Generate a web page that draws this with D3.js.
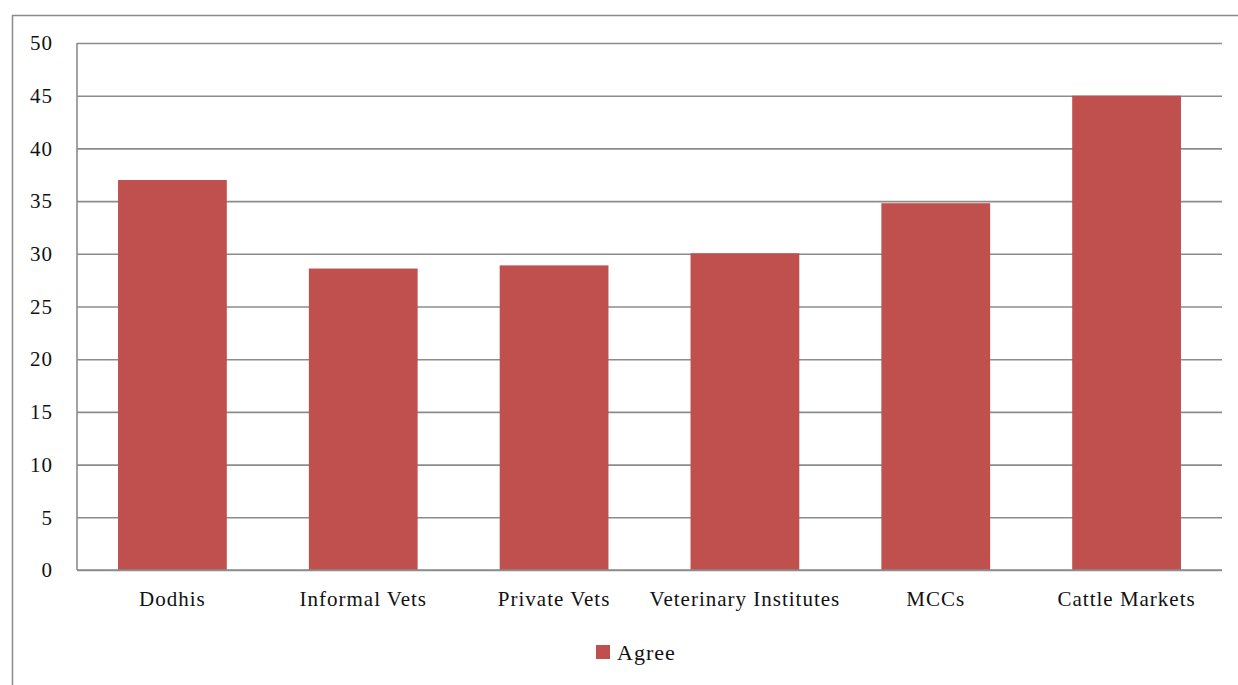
<!DOCTYPE html>
<html>
<head>
<meta charset="utf-8">
<script src="https://cdn.jsdelivr.net/npm/d3@7"></script>
<style>
  html, body { margin: 0; padding: 0; background: #fff; }
  svg { display: block; }
  text { font-family: "Liberation Serif", "DejaVu Serif", serif; fill: #111; }
</style>
</head>
<body>
<svg id="chart" width="1238" height="685"></svg>
<script>
// Share of respondents who agree, by actor
const categories = ["Dodhis", "Informal Vets", "Private Vets", "Veterinary Institutes", "MCCs", "Cattle Markets"];
const agreeValues = [37, 28.6, 28.9, 30.05, 34.8, 45];
const yTicks = [0, 5, 10, 15, 20, 25, 30, 35, 40, 45, 50];
const seriesName = "Agree";

const svg = d3.select("#chart");
const W = 1238, H = 685;
const margin = { left: 77, right: W - 1222, top: 43, bottom: H - 570 };
const barColor = "#C0504D";
const gridColor = "#8c8c8c";
const labelFont = '"Liberation Serif", serif';

// outer chart frame
svg.append("rect")
  .attr("x", 12.5).attr("y", 15.5)
  .attr("width", W + 20).attr("height", H + 20)
  .attr("fill", "none").attr("stroke", "#8a8a8a").attr("stroke-width", 1.5);

const x = d3.scaleBand()
  .domain(categories)
  .range([margin.left, W - margin.right])
  .paddingInner(0.43)
  .paddingOuter(0.215);

const y = d3.scaleLinear()
  .domain([0, 50])
  .range([H - margin.bottom, margin.top]);

// horizontal gridlines with value labels
const yAxis = d3.axisLeft(y).tickValues(yTicks).tickSize(-(W - margin.left - margin.right)).tickPadding(24);
const gy = svg.append("g").attr("transform", `translate(${margin.left},0)`).call(yAxis);
gy.select(".domain").remove();
gy.selectAll(".tick line").attr("stroke", gridColor).attr("stroke-width", 1.6);
gy.selectAll(".tick text").attr("font-size", 21).attr("fill", "#111")
  .attr("letter-spacing", 1)
  .style("font-family", labelFont);

// vertical axis line
svg.append("line")
  .attr("x1", margin.left).attr("x2", margin.left)
  .attr("y1", y(50)).attr("y2", y(0))
  .attr("stroke", gridColor).attr("stroke-width", 1.6);

// bars
svg.append("g").selectAll("rect")
  .data(categories)
  .join("rect")
  .attr("x", d => x(d))
  .attr("width", x.bandwidth())
  .attr("y", (d, i) => y(agreeValues[i]))
  .attr("height", (d, i) => y(0) - y(agreeValues[i]))
  .attr("fill", barColor);

// category axis
const xAxis = d3.axisBottom(x).tickSize(0).tickPadding(21);
const gx = svg.append("g").attr("transform", `translate(0,${y(0)})`).call(xAxis);
gx.select(".domain").remove();
gx.selectAll(".tick text").attr("font-size", 21).attr("fill", "#111")
  .attr("letter-spacing", 1)
  .style("font-family", labelFont);

svg.append("line")
  .attr("x1", margin.left).attr("x2", W - margin.right)
  .attr("y1", y(0)).attr("y2", y(0))
  .attr("stroke", gridColor).attr("stroke-width", 1.6);

// legend
const legend = svg.append("g").attr("transform", "translate(596,645)");
legend.append("rect").attr("width", 14).attr("height", 14).attr("fill", barColor);
legend.append("text").attr("x", 21).attr("y", 7).attr("dy", "0.35em")
  .attr("font-size", 22).attr("letter-spacing", 1).text(seriesName);
</script>
</body>
</html>
